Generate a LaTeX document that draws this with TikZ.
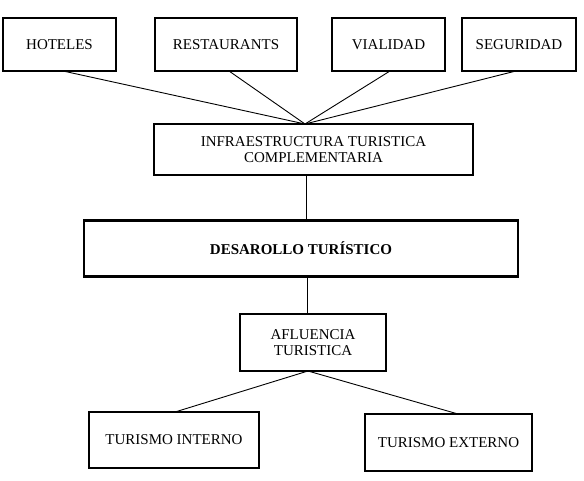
\documentclass[tikz,border=0pt]{standalone}
\usepackage{fontspec}
\setmainfont{Liberation Serif}
\begin{document}
\begin{tikzpicture}[x=1pt,y=-1pt,
  box/.style={draw=black,line width=2.5pt,rectangle,inner sep=0pt,align=center,
    font=\fontsize{15}{16}\selectfont},
  link/.style={draw=black,line width=0.9pt}]
\useasboundingbox (0,0) rectangle (584,481);
\node[box,minimum width=113pt,minimum height=53pt] (hot) at (59.5,44.5) {HOTELES};
\node[box,minimum width=142pt,minimum height=53pt] (res) at (226,44.5) {RESTAURANTS};
\node[box,minimum width=113pt,minimum height=53pt] (via) at (388.5,44.5) {VIALIDAD};
\node[box,minimum width=114pt,minimum height=53pt] (seg) at (519,44.5) {SEGURIDAD};
\node[box,minimum width=319pt,minimum height=51pt] (inf) at (313.5,149.5) {INFRAESTRUCTURA TURISTICA\\COMPLEMENTARIA};
\node[box,minimum width=434pt,minimum height=56pt,font=\fontsize{15}{16}\selectfont\bfseries] (des) at (301,248.5) {DESAROLLO TURÍSTICO};
\node[box,minimum width=146pt,minimum height=57pt] (afl) at (313,342.5) {AFLUENCIA\\TURISTICA};
\node[box,minimum width=170pt,minimum height=56pt] (ti) at (174,440) {TURISMO INTERNO};
\node[box,minimum width=167pt,minimum height=57pt] (te) at (448.5,442.5) {TURISMO EXTERNO};
\coordinate (conv) at (305,124);
\coordinate (hotb) at (63,71);
\coordinate (resb) at (229,71);
\coordinate (viab) at (390,71);
\coordinate (segb) at (516,71);
\coordinate (aflb) at (308,371);
\coordinate (tit) at (175,412);
\coordinate (tet) at (458,414);
\draw[link] (hotb) -- (conv);
\draw[link] (resb) -- (conv);
\draw[link] (viab) -- (conv);
\draw[link] (segb) -- (conv);
\draw[link] (306,0 |- inf.south) -- (306,0 |- des.north);
\draw[link] (307,0 |- des.south) -- (307,0 |- afl.north);
\draw[link] (aflb) -- (tit);
\draw[link] (aflb) -- (tet);
\end{tikzpicture}
\end{document}
